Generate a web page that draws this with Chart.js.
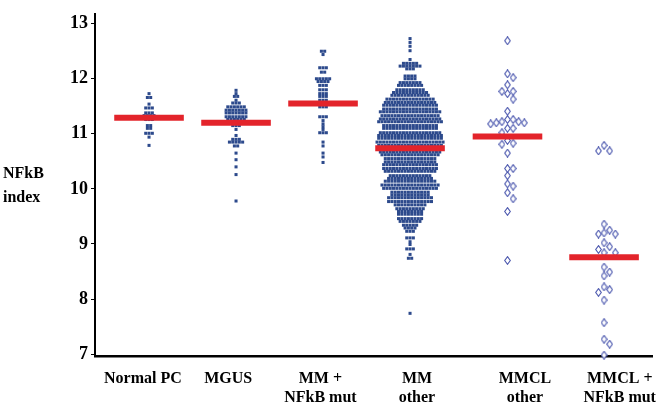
<!DOCTYPE html>
<html><head><meta charset="utf-8">
<script src="https://cdn.jsdelivr.net/npm/chart.js@4/dist/chart.umd.min.js"></script>
<style>html,body{margin:0;padding:0;background:#fff;}#wrap{width:664px;height:408px;position:relative;}</style>
</head><body><div id="wrap"><canvas id="c"></canvas></div>
<script>
// ---------- data ----------
const categories = [["Normal PC"], ["MGUS"], ["MM +", "NFkB mut"], ["MM", "other"], ["MMCL", "other"], ["MMCL +", "NFkB mut"]];
const yTicks = [7, 8, 9, 10, 11, 12, 13];
const medians = [11.29, 11.20, 11.55, 10.74, 10.95, 8.76];

// dot groups: value of each row of dots and number of dots in that row
const normalPcValues = [11.73, 11.66, 11.54, 11.47, 11.38, 11.33, 11.26, 11.15, 11.10, 11.01, 10.94, 10.79];
const normalPcCounts = [1, 2, 1, 3, 3, 4, 3, 2, 2, 3, 1, 1];

const mgusValues = [11.79, 11.73, 11.68, 11.61, 11.56, 11.49, 11.43, 11.38, 11.31, 11.26, 11.15, 11.08, 10.97, 10.90, 10.85, 10.78, 10.65, 10.53, 10.40, 10.26, 9.78];
const mgusCounts = [1, 1, 2, 1, 3, 6, 7, 7, 7, 6, 3, 1, 1, 3, 5, 2, 1, 1, 1, 1, 1];

const mmNfkbValues = [12.50, 12.44, 12.20, 12.12, 12.00, 11.95, 11.88, 11.80, 11.73, 11.68, 11.61, 11.54, 11.49, 11.31, 11.24, 11.18, 11.13, 11.08, 11.02, 10.85, 10.78, 10.65, 10.58, 10.48];
const mmNfkbCounts = [2, 1, 3, 2, 5, 4, 3, 3, 3, 3, 3, 3, 3, 3, 1, 1, 1, 1, 3, 1, 1, 1, 1, 1];

const mmOtherValues = [12.73, 12.66, 12.59, 12.51, 12.35, 12.28, 12.23, 12.18,
  12.05, 12.00, 11.93, 11.88, 11.80, 11.75, 11.70, 11.63, 11.57, 11.52, 11.45, 11.40, 11.33, 11.27, 11.22, 11.15, 11.10,
  11.02, 10.97, 10.92, 10.85, 10.79, 10.74, 10.67, 10.62, 10.55, 10.49, 10.44, 10.37, 10.32, 10.24, 10.19, 10.14, 10.07,
  10.01, 9.94, 9.89, 9.84, 9.77, 9.71, 9.64, 9.59, 9.54, 9.46, 9.41, 9.34, 9.29, 9.23, 9.11, 9.04, 8.99, 8.91, 8.81, 8.74, 7.74];
const mmOtherCounts = [1, 1, 1, 1, 1, 5, 7, 3,
  4, 4, 7, 8, 9, 11, 12, 15, 16, 17, 17, 19, 18, 19, 20, 17, 17,
  19, 20, 20, 21, 20, 20, 19, 18, 16, 16, 17, 17, 16, 13, 14, 16, 18,
  17, 12, 12, 14, 14, 10, 9, 8, 8, 8, 7, 5, 4, 3, 3, 1, 1, 3, 1, 2, 1];

// diamond groups: one value per cell line
const mmclOtherValues = [12.69, 12.09, 12.02, 11.89, 11.77, 11.73, 11.77, 11.63, 11.41, 11.26, 11.22, 11.20, 11.18, 11.20, 11.22, 11.26,
  11.10, 11.02, 11.10, 10.88, 10.81, 10.83, 10.65, 10.24, 10.37, 10.37, 10.05, 10.09, 9.93, 9.82, 9.59, 8.70];
const mmclNfkbValues = [10.79, 10.69, 10.69, 9.36, 9.25, 9.20, 9.18, 9.18, 9.02, 8.95, 8.90, 8.84, 8.84, 8.58, 8.49, 8.42,
  8.22, 8.17, 8.12, 7.98, 7.57, 7.27, 7.18, 6.98];

// ---------- layout ----------
const groupX = [1, 2, 3, 4, 5.12, 6.23];
const labelX = [0.93, 1.91, 2.97, 4.08, 5.32, 6.41];
const xMin = 0.379, xMax = 6.781, yMin = 6.965, yMax = 13.18;
const SERIF = '"Liberation Serif", "Times New Roman", serif';
const DOT = '#2d4a8c', RED = '#e3242b', DIAM = '#4b57ae';

function makeDiamond() {
  const c = document.createElement('canvas'); c.width = 7; c.height = 9;
  const g = c.getContext('2d');
  g.fillStyle = '#fff'; g.strokeStyle = DIAM; g.lineWidth = 1.1;
  g.beginPath(); g.moveTo(3.5, 0.7); g.lineTo(6.3, 4.5); g.lineTo(3.5, 8.3); g.lineTo(0.7, 4.5); g.closePath();
  g.fill(); g.stroke();
  return c;
}
const diamond = makeDiamond();

const dotGroups = [
  {g: 0, values: normalPcValues, counts: normalPcCounts},
  {g: 1, values: mgusValues, counts: mgusCounts},
  {g: 2, values: mmNfkbValues, counts: mmNfkbCounts},
  {g: 3, values: mmOtherValues, counts: mmOtherCounts}
];
const diamondGroups = [
  {g: 4, values: mmclOtherValues},
  {g: 5, values: mmclNfkbValues}
];

const datasets = [];
medians.forEach((m, g) => {
  datasets.push({type: 'line', data: [{x: groupX[g] - 0.4, y: m}, {x: groupX[g] + 0.4, y: m}],
    borderColor: RED, borderWidth: 6, pointRadius: 0, borderCapStyle: 'butt', order: 0, clip: false});
});
dotGroups.forEach(dg => {
  const data = [];
  dg.values.forEach((v, r) => { for (let i = 0; i < dg.counts[r]; i++) data.push({x: groupX[dg.g], y: v, row: r, i: i, n: dg.counts[r]}); });
  datasets.push({type: 'scatter', data, kind: 'rows', g: dg.g, pointStyle: 'rect', pointRadius: 2.15,
    backgroundColor: DOT, borderWidth: 0, order: 1, clip: false});
});
diamondGroups.forEach(dg => {
  const data = dg.values.map(v => ({x: groupX[dg.g], y: v}));
  datasets.push({type: 'scatter', data, kind: 'swarm', g: dg.g, pointStyle: diamond, pointRadius: 3.5,
    order: 1, clip: false});
});

const titlePlugin = {
  id: 'sideTitle',
  afterDraw(chart) {
    const ctx = chart.ctx;
    ctx.save();
    ctx.fillStyle = '#000';
    ctx.font = 'bold 16px ' + SERIF;
    ctx.textAlign = 'left'; ctx.textBaseline = 'alphabetic';
    ctx.fillText('NFkB', 3, 178);
    ctx.fillText('index', 3, 202);
    ctx.restore();
  }
};

const chart = new Chart(document.getElementById('c'), {
  data: {datasets},
  options: {
    responsive: true, maintainAspectRatio: false, animation: false,
    layout: {padding: {top: 5, right: 12, left: 0, bottom: 0}},
    plugins: {legend: {display: false}, tooltip: {enabled: false}},
    scales: {
      x: {
        type: 'linear', min: xMin, max: xMax,
        afterFit: s => { s.height = 52; },
        afterBuildTicks: s => { s.ticks = labelX.map(v => ({value: v})); },
        grid: {display: false},
        border: {display: true, color: '#000', width: 2.5},
        ticks: {autoSkip: false, maxRotation: 0, padding: 5, color: '#000',
          font: {family: SERIF, size: 16, weight: 'bold', lineHeight: 1.2},
          callback: (v, i) => categories[i]}
      },
      y: {
        type: 'linear', min: yMin, max: yMax,
        afterFit: s => { s.width = 95; },
        afterBuildTicks: s => { s.ticks = yTicks.map(v => ({value: v})); },
        grid: {display: true, drawOnChartArea: false, drawTicks: true, tickLength: 4, color: '#000', lineWidth: 1},
        border: {display: true, color: '#000', width: 2},
        ticks: {padding: 3, color: '#000', font: {family: SERIF, size: 18, weight: 'bold'}}
      }
    }
  },
  plugins: [titlePlugin]
});

// place the dots of each group side by side (beeswarm), in pixel space
function layoutPoints(chart) {
  const xs = chart.scales.x, ys = chart.scales.y;
  const pxPerX = xs.getPixelForValue(1) - xs.getPixelForValue(0);
  chart.data.datasets.forEach(ds => {
    if (ds.kind === 'rows') {
      const step = 3.3;
      ds.data.forEach(p => { p.x = groupX[ds.g] + (p.i - (p.n - 1) / 2) * step / pxPerX; });
    } else if (ds.kind === 'swarm') {
      const ax = 5.6, ay = 7;
      const pts = ds.data.map(p => ({p, py: ys.getPixelForValue(p.y)})).sort((a, b) => a.py - b.py);
      const placed = [];
      pts.forEach(q => {
        for (let k = 0; k < 40; k++) {
          const off = (k % 2 === 1 ? 1 : -1) * Math.ceil(k / 2) * ax;
          const ok = placed.every(o => {
            const dx = (o.off - off) / ax, dy = (o.py - q.py) / ay;
            return dx * dx + dy * dy >= 0.999;
          });
          if (ok) { q.off = off; placed.push(q); break; }
        }
        q.p.x = groupX[ds.g] + q.off / pxPerX;
      });
    }
  });
  chart.update('none');
}
layoutPoints(chart);
</script></body></html>
